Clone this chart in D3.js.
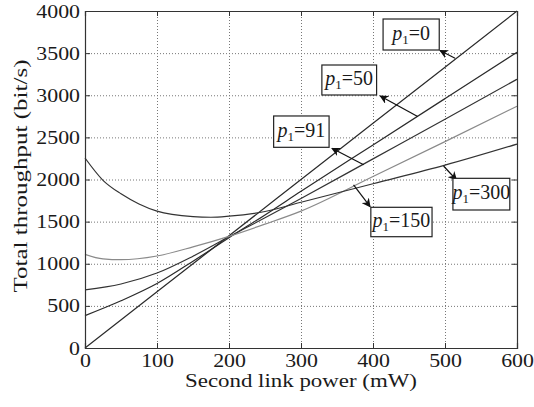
<!DOCTYPE html>
<html>
<head>
<meta charset="utf-8">
<script src="https://cdn.jsdelivr.net/npm/d3@7"></script>
<style>
  body { margin: 0; background: #fff; }
  svg text { font-family: "Liberation Serif", "DejaVu Serif", serif; fill: #1a1a1a; }
</style>
</head>
<body>
<svg id="chart"></svg>
<script>
// Total throughput vs second link power, one curve per p1 value

const W = 534, H = 407;
const M = { top: 11, right: 17, bottom: 59, left: 85 };
const PW = W - M.left - M.right;
const PH = H - M.top - M.bottom;

const xTicks = [0, 100, 200, 300, 400, 500, 600];
const yTicks = [0, 500, 1000, 1500, 2000, 2500, 3000, 3500, 4000];

// curve samples: [power (mW), throughput (bit/s)]
const p1_0   = [[0, 0], [100, 667], [200, 1333], [300, 2000], [400, 2667], [500, 3333], [600, 4000]];
const p1_50  = [[0, 384], [50, 560], [100, 765], [150, 1030], [200, 1310], [250, 1580], [300, 1860], [400, 2410], [500, 2960], [600, 3510]];
const p1_91  = [[0, 690], [50, 760], [100, 890], [150, 1090], [200, 1320], [250, 1545], [300, 1775], [400, 2245], [500, 2715], [600, 3190]];
const p1_150 = [[0, 1112], [25, 1058], [50, 1048], [100, 1092], [150, 1200], [200, 1325], [250, 1470], [300, 1625], [400, 2035], [500, 2450], [600, 2870]];
const p1_300 = [[0, 2255], [25, 1990], [50, 1830], [75, 1710], [100, 1625], [150, 1560], [175, 1552], [200, 1565], [250, 1620], [300, 1730], [400, 1950], [500, 2170], [600, 2420]];

const seriesData = [p1_0, p1_50, p1_91, p1_150, p1_300];
const seriesColor = ['#2a2a2a', '#2a2a2a', '#333', '#8a8a8a', '#333'];

// label boxes in data units: box [x0, x1, yTop, yBottom], arrow [tailX, tailY, headX, headY]
const labelText = ['0', '50', '91', '150', '300'];
const labelBox = [[414, 492, 3905, 3537], [329, 405, 3359, 3003], [262, 339, 2754, 2382], [397, 482, 1670, 1321], [511, 590, 2014, 1638]];
const labelArrow = [[514, 3440, 493, 3531], [462, 2748, 410, 2991], [387, 2175, 343, 2370], [373, 1935, 396, 1677], [498, 2160, 516, 1994]];

const svg = d3.select('#chart').attr('width', W).attr('height', H);
const g = svg.append('g').attr('transform', `translate(${M.left},${M.top})`);

const x = d3.scaleLinear().domain([0, 600]).range([0, PW]);
const y = d3.scaleLinear().domain([0, 4000]).range([PH, 0]);

// the original lettering is a little wider than Times, so widen it a bit
function widen(sel, k) {
  sel.each(function () {
    const len = this.getComputedTextLength();
    d3.select(this).attr('textLength', len * k).attr('lengthAdjust', 'spacingAndGlyphs');
  });
}

// dotted grid
g.append('g').attr('class', 'grid')
  .attr('transform', `translate(0,${PH})`)
  .call(d3.axisBottom(x).tickValues(xTicks).tickSize(-PH).tickFormat(''))
  .call(s => s.select('.domain').remove());
g.append('g').attr('class', 'grid')
  .call(d3.axisLeft(y).tickValues(yTicks).tickSize(-PW).tickFormat(''))
  .call(s => s.select('.domain').remove());
g.selectAll('.grid line').attr('stroke', '#777').attr('stroke-dasharray', '1,2').attr('stroke-width', 1);

// curves
const line = d3.line().x(d => x(d[0])).y(d => y(d[1])).curve(d3.curveMonotoneX);
g.selectAll('path.curve')
  .data(seriesData)
  .enter().append('path')
  .attr('class', 'curve')
  .attr('d', line)
  .attr('fill', 'none')
  .attr('stroke', (d, i) => seriesColor[i])
  .attr('stroke-width', 1.2);

// axes, ticks pointing inwards on all four sides
const xAx = g.append('g').attr('transform', `translate(0,${PH})`)
  .call(d3.axisBottom(x).tickValues(xTicks).tickSize(-5).tickPadding(6).tickFormat(d3.format('d')));
const yAx = g.append('g')
  .call(d3.axisLeft(y).tickValues(yTicks).tickSize(-5).tickPadding(5).tickFormat(d3.format('d')));
g.append('g').attr('transform', `translate(${PW},0)`)
  .call(d3.axisRight(y).tickValues(yTicks).tickSize(-5).tickFormat(''));
g.append('g')
  .call(d3.axisTop(x).tickValues(xTicks).tickSize(-5).tickFormat(''));
g.selectAll('.domain').attr('stroke', '#333').attr('stroke-width', 1.2);
g.selectAll('.tick line').filter(function () { return !this.closest('.grid'); }).attr('stroke', '#333');
[xAx, yAx].forEach(ax => ax.selectAll('text')
  .attr('font-size', 19)
  .attr('font-family', '"Liberation Serif", serif')
  .attr('fill', '#1a1a1a')
  .call(widen, 1.15));

// axis titles
svg.append('text')
  .attr('x', M.left + PW / 2)
  .attr('y', 387)
  .attr('text-anchor', 'middle')
  .attr('font-size', 19)
  .attr('textLength', 232)
  .attr('lengthAdjust', 'spacingAndGlyphs')
  .text('Second link power (mW)');

svg.append('text')
  .attr('transform', 'rotate(-90)')
  .attr('x', -176)
  .attr('y', 27)
  .attr('text-anchor', 'middle')
  .attr('font-size', 19)
  .attr('textLength', 233)
  .attr('lengthAdjust', 'spacingAndGlyphs')
  .text('Total throughput (bit/s)');

// arrowhead marker
svg.append('defs').append('marker')
  .attr('id', 'head')
  .attr('viewBox', '0 0 10 10')
  .attr('refX', 9).attr('refY', 5)
  .attr('markerWidth', 9).attr('markerHeight', 9)
  .attr('markerUnits', 'userSpaceOnUse')
  .attr('orient', 'auto')
  .append('path')
  .attr('d', 'M0,0 L10,5 L0,10 L3,5 Z')
  .attr('fill', '#111');

// annotations
labelText.forEach((t, i) => {
  const b = labelBox[i], a = labelArrow[i];
  g.append('line')
    .attr('x1', x(a[0])).attr('y1', y(a[1]))
    .attr('x2', x(a[2])).attr('y2', y(a[3]))
    .attr('stroke', '#111').attr('stroke-width', 1.2)
    .attr('marker-end', 'url(#head)');
  g.append('rect')
    .attr('x', x(b[0])).attr('y', y(b[2]))
    .attr('width', x(b[1]) - x(b[0]))
    .attr('height', y(b[3]) - y(b[2]))
    .attr('fill', '#fff').attr('stroke', '#222').attr('stroke-width', 1.2);
  const txt = g.append('text')
    .attr('x', (x(b[0]) + x(b[1])) / 2)
    .attr('y', (y(b[2]) + y(b[3])) / 2 + 5)
    .attr('text-anchor', 'middle')
    .attr('font-size', 20);
  txt.append('tspan').attr('font-style', 'italic').text('p');
  txt.append('tspan').attr('font-size', 13).attr('dy', 4).text('1');
  txt.append('tspan').attr('dy', -4).text('=' + t);
});
</script>
</body>
</html>
